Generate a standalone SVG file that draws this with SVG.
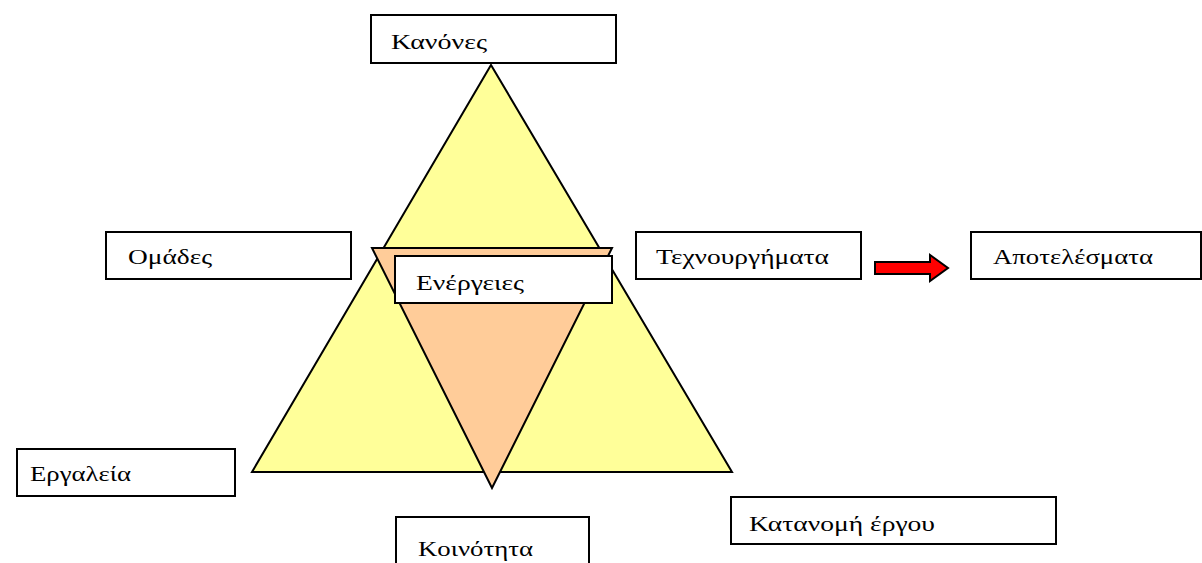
<svg xmlns="http://www.w3.org/2000/svg" width="1202" height="563" viewBox="0 0 1202 563">
  <style>
    .box { fill: #ffffff; stroke: #000000; stroke-width: 2; }
    .lbl { font-family: "Liberation Serif", "Times New Roman", serif; font-size: 22px; fill: #000000; }
    .tri { stroke: #000000; stroke-width: 2; stroke-linejoin: miter; }
  </style>
  <rect width="1202" height="563" fill="#ffffff"/>

  <!-- triangles -->
  <g id="triangles">
    <polygon class="tri" points="491,65 732,472 252,472" fill="#ffff99"/>
    <polygon class="tri" points="372,248 612,248 492,488" fill="#ffcc99"/>
  </g>

  <!-- connectors -->
  <g id="connectors">
    <polygon points="875,262 930,262 930,255 948,268 930,281 930,274 875,274" fill="#ff0000" stroke="#000000" stroke-width="2" stroke-linejoin="miter"/>
  </g>

  <g id="kanones">
    <rect class="box" x="371" y="15" width="245" height="48"/>
    <text class="lbl" x="391" y="49" textLength="96" lengthAdjust="spacingAndGlyphs">Κανόνες</text>
  </g>
  <g id="omades">
    <rect class="box" x="106" y="232" width="245" height="47"/>
    <text class="lbl" x="128" y="264" textLength="84" lengthAdjust="spacingAndGlyphs">Ομάδες</text>
  </g>
  <g id="energeies">
    <rect class="box" x="395" y="256" width="217" height="47"/>
    <text class="lbl" x="416" y="290" textLength="108" lengthAdjust="spacingAndGlyphs">Ενέργειες</text>
  </g>
  <g id="texnourgimata">
    <rect class="box" x="636" y="232" width="225" height="47"/>
    <text class="lbl" x="656" y="264" textLength="173" lengthAdjust="spacingAndGlyphs">Τεχνουργήματα</text>
  </g>
  <g id="apotelesmata">
    <rect class="box" x="971" y="232" width="230" height="47"/>
    <text class="lbl" x="993" y="264" textLength="160" lengthAdjust="spacingAndGlyphs">Αποτελέσματα</text>
  </g>
  <g id="ergaleia">
    <rect class="box" x="17" y="449" width="218" height="47"/>
    <text class="lbl" x="30" y="481" textLength="101" lengthAdjust="spacingAndGlyphs">Εργαλεία</text>
  </g>
  <g id="koinotita">
    <rect class="box" x="396" y="517" width="193" height="50"/>
    <text class="lbl" x="418" y="556" textLength="115" lengthAdjust="spacingAndGlyphs">Κοινότητα</text>
  </g>
  <g id="katanomi">
    <rect class="box" x="731" y="497" width="325" height="47"/>
    <text class="lbl" x="749" y="531" textLength="186" lengthAdjust="spacingAndGlyphs">Κατανομή έργου</text>
  </g>
</svg>
